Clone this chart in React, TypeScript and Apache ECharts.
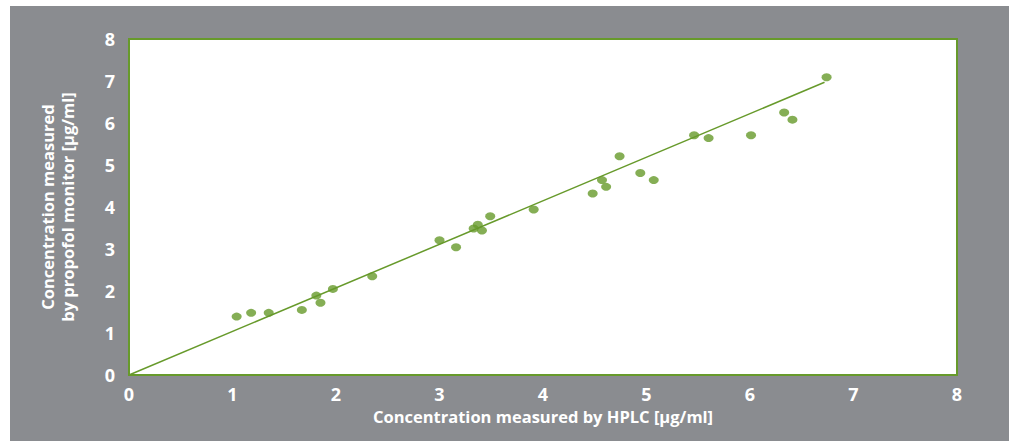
import React, { useEffect, useRef } from "react";
import * as echarts from "echarts";

const xTicks = [0, 1, 2, 3, 4, 5, 6, 7, 8];
const yTicks = [0, 1, 2, 3, 4, 5, 6, 7, 8];

const hplc = [
  1.04, 1.18, 1.35, 1.67, 1.81, 1.85, 1.97, 2.35,
  3.0, 3.16, 3.33, 3.37, 3.41, 3.49, 3.91,
  4.48, 4.57, 4.61, 4.74, 4.94, 5.07,
  5.46, 5.6, 6.01, 6.33, 6.41, 6.74,
];
const monitor = [
  1.39, 1.48, 1.48, 1.55, 1.89, 1.72, 2.05, 2.35,
  3.21, 3.04, 3.49, 3.58, 3.44, 3.78, 3.94,
  4.32, 4.64, 4.48, 5.21, 4.81, 4.64,
  5.71, 5.64, 5.71, 6.25, 6.08, 7.09,
];
const fitLine = [
  [0, 0],
  [6.72, 6.97],
];

const GREEN = "#679a2b";
const GRAY = "#8a8c90";
const FONT = "'Open Sans', sans-serif";

export default function App() {
  const ref = useRef<HTMLDivElement>(null);
  useEffect(() => {
    if (!ref.current) return;
    const chart = echarts.init(ref.current, null, { renderer: "svg" });
    chart.setOption({
      animation: false,
      backgroundColor: "#ffffff",
      graphic: [
        {
          type: "rect",
          z: -10,
          silent: true,
          shape: { x: 10, y: 6, width: 999, height: 440 },
          style: { fill: GRAY },
        },
      ],
      grid: {
        left: 129,
        top: 39,
        right: 57,
        bottom: 66,
        show: true,
        backgroundColor: "#ffffff",
        borderColor: GREEN,
        borderWidth: 2,
      },
      xAxis: {
        type: "value",
        min: xTicks[0],
        max: xTicks[xTicks.length - 1],
        interval: 1,
        name: "Concentration measured by HPLC [µg/ml]",
        nameLocation: "middle",
        nameGap: 32,
        nameTextStyle: { color: "#ffffff", fontFamily: FONT, fontWeight: "bold", fontSize: 16.5 },
        axisLine: { show: true, lineStyle: { color: GREEN, width: 2 } },
        axisTick: { show: false },
        splitLine: { show: false },
        axisLabel: { color: "#ffffff", fontFamily: FONT, fontWeight: "bold", fontSize: 18, margin: 10 },
      },
      yAxis: {
        type: "value",
        min: yTicks[0],
        max: yTicks[yTicks.length - 1],
        interval: 1,
        name: "Concentration measured\nby propofol monitor [µg/ml]",
        nameLocation: "middle",
        nameRotate: 90,
        nameGap: 52,
        nameTextStyle: { color: "#ffffff", fontFamily: FONT, fontWeight: "bold", fontSize: 16.5, lineHeight: 20 },
        axisLine: { show: true, lineStyle: { color: GREEN, width: 2 } },
        axisTick: { show: false },
        splitLine: { show: false },
        axisLabel: { color: "#ffffff", fontFamily: FONT, fontWeight: "bold", fontSize: 18, margin: 14 },
      },
      series: [
        {
          type: "line",
          data: fitLine,
          showSymbol: false,
          symbol: "none",
          lineStyle: { color: GREEN, width: 1.5 },
          z: 2,
        },
        {
          type: "scatter",
          data: hplc.map((x, i) => [x, monitor[i]]),
          symbol: "circle",
          symbolSize: [10, 8],
          itemStyle: { color: GREEN },
          z: 3,
        },
      ],
    });
    return () => chart.dispose();
  }, []);
  return (
    <div
      ref={ref}
      style={{ position: "fixed", left: 0, top: 0, width: 1014, height: 441 }}
    />
  );
}
